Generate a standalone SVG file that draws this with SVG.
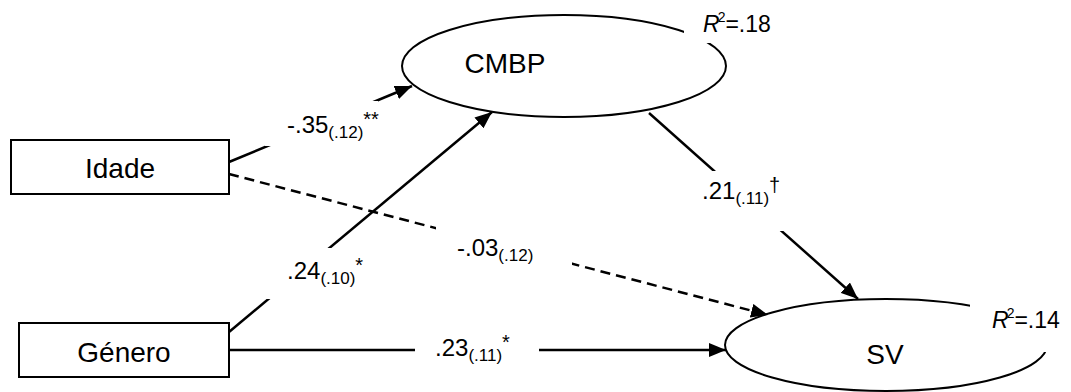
<svg xmlns="http://www.w3.org/2000/svg" width="1071" height="392" viewBox="0 0 1071 392">
<defs>
<style>
.box{fill:#fff;stroke:#000;stroke-width:2}
.ell{fill:none;stroke:#000;stroke-width:2}
.nt{font-family:"Liberation Sans",Arial,sans-serif;font-size:28px;fill:#000;text-anchor:middle}
.ln{fill:none;stroke:#000;stroke-width:2.5}
.dash{stroke-dasharray:10 6}
.bg{fill:#fff;stroke:none}
.lbl{font-family:"Liberation Sans",Arial,sans-serif;font-size:24px;fill:#000}
.sub{font-size:17px}
.sup{font-size:20px}
.r2{font-family:"Liberation Sans",Arial,sans-serif;font-size:23px;fill:#000}
</style>
<marker id="ah" markerUnits="userSpaceOnUse" markerWidth="18" markerHeight="14" refX="17" refY="7" orient="auto">
<path d="M0,0 L17,7 L0,14 z" fill="#000"/>
</marker>
</defs>
<rect width="1071" height="392" fill="#fff"/>
<g id="node-cmbp">
<ellipse class="ell" cx="564" cy="66" rx="162" ry="51"/>
<text class="nt" x="505" y="73">CMBP</text>
</g>
<g id="node-sv">
<ellipse class="ell" cx="886" cy="345" rx="161" ry="46"/>
<text class="nt" x="885" y="364">SV</text>
</g>
<g id="node-idade">
<rect class="box" x="11" y="140" width="218" height="54"/>
<text class="nt" x="120" y="178">Idade</text>
</g>
<g id="node-genero">
<rect class="box" x="19" y="323" width="210" height="54"/>
<text class="nt" x="124" y="362">Género</text>
</g>
<g id="connectors">
<line class="ln" x1="229" y1="162" x2="412" y2="86" marker-end="url(#ah)"/>
<line class="ln" x1="229" y1="332" x2="492" y2="112" marker-end="url(#ah)"/>
<line class="ln" x1="649" y1="113" x2="858" y2="299" marker-end="url(#ah)"/>
<line class="ln dash" x1="229" y1="174" x2="768" y2="315" marker-end="url(#ah)"/>
<line class="ln" x1="229" y1="350" x2="726" y2="350" marker-end="url(#ah)"/>
</g>
<g id="labels">
<rect class="bg" x="265" y="101" width="113" height="45"/>
<rect class="bg" x="262" y="248" width="106" height="51"/>
<rect class="bg" x="695" y="171" width="100" height="60"/>
<rect class="bg" x="436" y="226" width="136" height="40"/>
<rect class="bg" x="415" y="335" width="124" height="30"/>
<rect class="bg" x="684" y="0" width="100" height="43"/>
<rect class="bg" x="970" y="290" width="101" height="62"/>
<text class="lbl" x="287" y="133">-.35<tspan class="sub" dy="5">(.12)</tspan><tspan class="sup" dy="-12">**</tspan></text>
<text class="lbl" x="287" y="279">.24<tspan class="sub" dy="5">(.10)</tspan><tspan class="sup" dy="-12">*</tspan></text>
<text class="lbl" x="702" y="199">.21<tspan class="sub" dy="5">(.11)</tspan><tspan class="sup" dy="-12">†</tspan></text>
<text class="lbl" x="457" y="256">-.03<tspan class="sub" dy="5">(.12)</tspan></text>
<text class="lbl" x="435" y="356">.23<tspan class="sub" dy="5">(.11)</tspan><tspan class="sup" dy="-12">*</tspan></text>
<text class="r2" x="703" y="32"><tspan font-style="italic">R</tspan><tspan font-size="14px" dx="-2" dy="-10">2</tspan><tspan dy="10">=.18</tspan></text>
<text class="r2" x="992" y="328"><tspan font-style="italic">R</tspan><tspan font-size="14px" dx="-2" dy="-10">2</tspan><tspan dy="10">=.14</tspan></text>
</g>
</svg>
